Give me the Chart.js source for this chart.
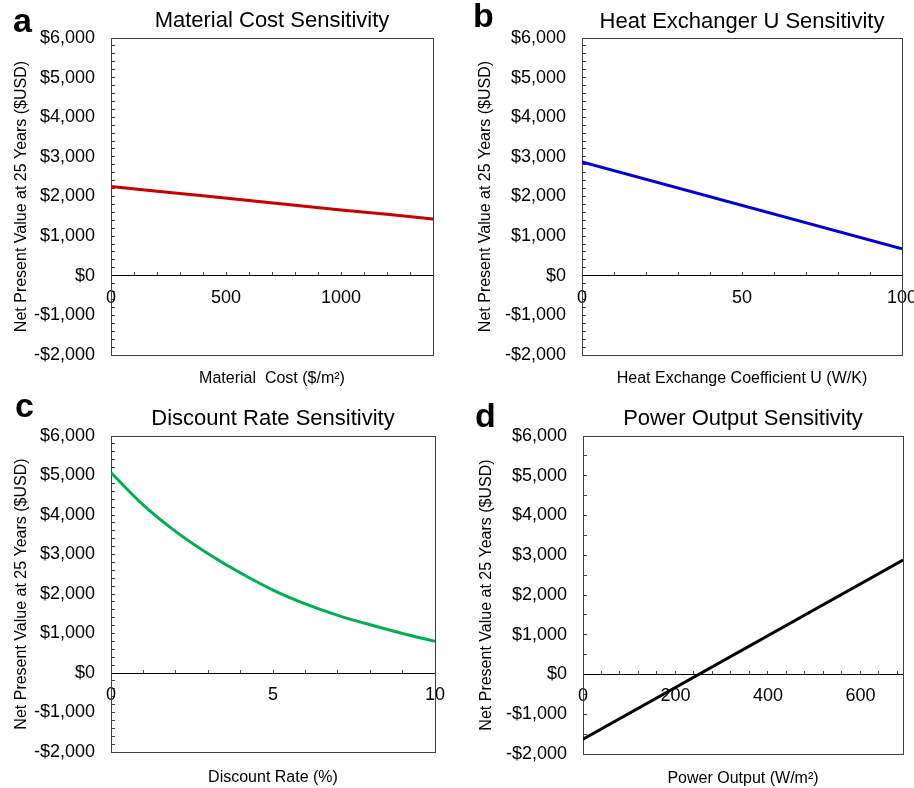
<!DOCTYPE html>
<html>
<head>
<meta charset="utf-8">
<script src="https://cdn.jsdelivr.net/npm/chart.js@4"></script>
<style>
  body { margin: 0; background: #fff; }
  #wrap { position: relative; width: 914px; height: 788px; overflow: hidden; }
  .panel { position: absolute; width: 457px; height: 394px; }
  .letter { position: absolute; font: bold 34px "Liberation Sans", Arial, sans-serif; line-height: 34px; color: #000; }
</style>
</head>
<body>
<div id="wrap">
  <div class="panel" style="left:0;top:0"><canvas id="chartA" width="457" height="394"></canvas></div>
  <div class="panel" style="left:457px;top:0"><canvas id="chartB" width="457" height="394"></canvas></div>
  <div class="panel" style="left:0;top:394px"><canvas id="chartC" width="457" height="394"></canvas></div>
  <div class="panel" style="left:457px;top:394px"><canvas id="chartD" width="457" height="394"></canvas></div>
  <div class="letter" style="left:13px;top:3px">a</div>
  <div class="letter" style="left:473px;top:-2px">b</div>
  <div class="letter" style="left:15px;top:388px">c</div>
  <div class="letter" style="left:475px;top:398px">d</div>
</div>
<script>
// values
const materialCost = [0, 200, 400, 600, 800, 1000, 1200, 1400];
const materialNpv = [2250, 2130, 2020, 1900, 1780, 1660, 1550, 1430];

const heatU = [0, 100];
const heatNpv = [2870, 680];

const discountRate = [0, 1, 2, 3, 4, 5, 6, 7, 8, 9, 10];
const discountNpv = [5070, 4250, 3580, 3020, 2530, 2100, 1750, 1460, 1220, 1000, 800];

const powerOutput = [0, 692];
const powerNpv = [-1630, 2880];

const yTitle = 'Net Present Value at 25 Years ($USD)';

Chart.defaults.font.family = '"Liberation Sans", Arial, sans-serif';
Chart.defaults.color = '#000';

// box around the plot area
const frame = {
  id: 'frame',
  beforeDatasetsDraw(chart) {
    const a = chart.chartArea;
    const ctx = chart.ctx;
    ctx.save();
    ctx.strokeStyle = '#404040';
    ctx.lineWidth = 1;
    ctx.strokeRect(Math.round(a.left) + 0.5, Math.round(a.top) + 0.5,
      Math.round(a.right - a.left), Math.round(a.bottom - a.top));
    ctx.restore();
  }
};

function money(v) {
  const s = '$' + Math.abs(v).toLocaleString('en-US');
  return v < 0 ? '-' + s : s;
}

function makePanel(canvasId, p) {
  const points = p.xs.map((x, i) => ({ x: x, y: p.ys[i] }));
  return new Chart(document.getElementById(canvasId), {
    type: 'line',
    data: {
      datasets: [{
        data: points,
        borderColor: p.color,
        borderWidth: 3,
        pointRadius: 0,
        fill: false,
        tension: p.curved ? 0.4 : 0,
        cubicInterpolationMode: p.curved ? 'monotone' : 'default'
      }]
    },
    options: {
      responsive: false,
      animation: false,
      layout: { padding: { left: 0, right: 457 - p.area.right, top: 0, bottom: 0 } },
      plugins: {
        legend: { display: false },
        tooltip: { enabled: false },
        title: {
          display: true,
          text: p.title,
          fullSize: false,
          font: { size: 22, weight: 'normal' },
          padding: { top: p.titlePad[0], bottom: p.titlePad[1] }
        }
      },
      scales: {
        x: {
          type: 'linear',
          position: { y: 0 },
          min: 0,
          max: p.xMax,
          border: { color: '#000', width: 1 },
          grid: { drawOnChartArea: false, tickLength: -4, color: '#404040' },
          ticks: {
            stepSize: p.xStep,
            autoSkip: false,
            maxRotation: 0,
            includeBounds: false,
            padding: 15,
            font: { size: 18 },
            callback: (v) => (v % p.xMajor === 0 ? String(v) : '')
          },
          // labels sit on the $0 line, so the axis takes no layout room
          afterFit: (s) => { s.height = 0; s.paddingLeft = 0; s.paddingRight = 0; }
        },
        xTitle: {
          type: 'linear',
          position: 'bottom',
          min: 0,
          max: 1,
          grid: { display: false, drawTicks: false },
          border: { display: false },
          ticks: { display: false },
          title: {
            display: true,
            text: p.xTitle,
            font: { size: 16 },
            padding: { top: 0, bottom: p.xTitlePad }
          },
          afterFit: (s) => { s.height = 394 - p.area.bottom; }
        },
        y: {
          type: 'linear',
          position: 'left',
          min: -2000,
          max: 6000,
          border: { color: '#404040', width: 1 },
          grid: { drawOnChartArea: false, tickLength: -4, color: '#404040' },
          ticks: {
            stepSize: p.yStep,
            autoSkip: false,
            padding: 20,
            font: { size: 18 },
            callback: (v) => (v % 1000 === 0 ? money(v) : '')
          },
          title: {
            display: true,
            text: yTitle,
            font: { size: 16 },
            padding: { top: p.yTitlePad, bottom: 0 }
          },
          afterFit: (s) => { s.width = p.area.left; }
        }
      }
    },
    plugins: [frame]
  });
}

makePanel('chartA', {
  xs: materialCost, ys: materialNpv, color: '#C80000',
  title: 'Material Cost Sensitivity', xTitle: 'Material  Cost ($/m²)',
  xMax: 1400, xStep: 100, xMajor: 500, yStep: 200,
  area: { left: 111, right: 433, bottom: 355 },
  titlePad: [8, 3.6], xTitlePad: 5.4, yTitlePad: 12.4
});

makePanel('chartB', {
  xs: heatU, ys: heatNpv, color: '#0000D8',
  title: 'Heat Exchanger U Sensitivity', xTitle: 'Heat Exchange Coefficient U (W/K)',
  xMax: 100, xStep: 10, xMajor: 50, yStep: 200,
  area: { left: 125, right: 445, bottom: 355 },
  titlePad: [8.5, 3.1], xTitlePad: 5.4, yTitlePad: 19.4
});

makePanel('chartC', {
  xs: discountRate, ys: discountNpv, color: '#00B050', curved: true,
  title: 'Discount Rate Sensitivity', xTitle: 'Discount Rate (%)',
  xMax: 10, xStep: 1, xMajor: 5, yStep: 200,
  area: { left: 111, right: 435, bottom: 358 },
  titlePad: [11.8, 3.8], xTitlePad: 1.1, yTitlePad: 12.4
});

makePanel('chartD', {
  xs: powerOutput, ys: powerNpv, color: '#000000',
  title: 'Power Output Sensitivity', xTitle: 'Power Output (W/m²)',
  xMax: 692, xStep: 40, xMajor: 200, yStep: 500,
  area: { left: 126, right: 446, bottom: 360 },
  titlePad: [11.8, 3.8], xTitlePad: 0, yTitlePad: 20.4
});
</script>
</body>
</html>
